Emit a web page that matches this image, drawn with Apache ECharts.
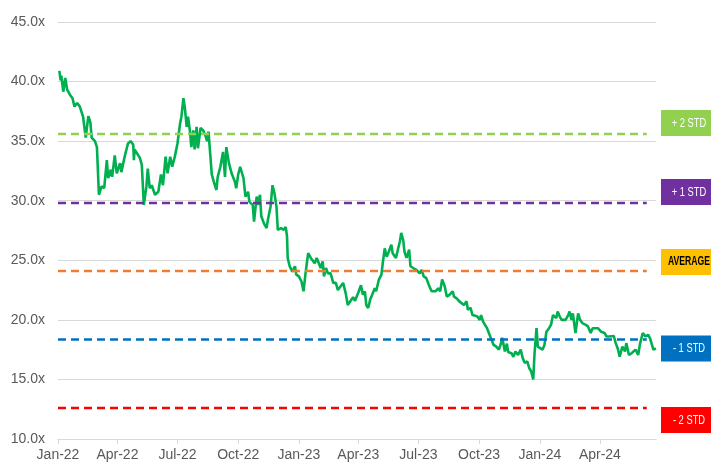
<!DOCTYPE html>
<html>
<head>
<meta charset="UTF-8">
<title>P/E band</title>
<script src="https://cdn.jsdelivr.net/npm/echarts@6/dist/echarts.min.js"></script>
<style>
  html, body { margin: 0; padding: 0; background: #fff; }
  #chart { width: 711px; height: 468px; }
</style>
</head>
<body>
<div id="chart"></div>
<script>
// forward P/E multiple
var peHistory = [
  ['2022-01-03', 40.9], ['2022-01-05', 40.1], ['2022-01-06', 40.5], ['2022-01-09', 39.15], ['2022-01-12', 40.3],
  ['2022-01-15', 39.3], ['2022-01-19', 38.9], ['2022-01-23', 38.6], ['2022-01-26', 37.9], ['2022-01-30', 38.2],
  ['2022-02-03', 37.9], ['2022-02-08', 37.05], ['2022-02-12', 35.3], ['2022-02-16', 37.1], ['2022-02-19', 36.6],
  ['2022-02-21', 35.3], ['2022-02-26', 35.0], ['2022-03-01', 34.5], ['2022-03-04', 30.5], ['2022-03-08', 31.2],
  ['2022-03-12', 31.05], ['2022-03-16', 33.4], ['2022-03-18', 31.9], ['2022-03-22', 32.6], ['2022-03-24', 32.0],
  ['2022-03-28', 33.8], ['2022-03-31', 32.3], ['2022-04-05', 33.15], ['2022-04-07', 32.4], ['2022-04-12', 33.7],
  ['2022-04-17', 34.8], ['2022-04-21', 35.0], ['2022-04-25', 34.7], ['2022-04-26', 33.4], ['2022-04-27', 34.3],
  ['2022-05-05', 33.6], ['2022-05-08', 33.0], ['2022-05-11', 29.65], ['2022-05-15', 31.2], ['2022-05-17', 32.7],
  ['2022-05-20', 31.05], ['2022-05-23', 31.3], ['2022-05-28', 30.5], ['2022-06-02', 30.75], ['2022-06-06', 32.2],
  ['2022-06-09', 31.3], ['2022-06-13', 33.7], ['2022-06-16', 32.3], ['2022-06-20', 33.7], ['2022-06-23', 32.85],
  ['2022-06-27', 33.7], ['2022-07-01', 34.8], ['2022-07-05', 36.5], ['2022-07-07', 37.05], ['2022-07-10', 38.6],
  ['2022-07-12', 37.9], ['2022-07-15', 36.2], ['2022-07-17', 37.05], ['2022-07-20', 35.8], ['2022-07-22', 34.5],
  ['2022-07-25', 35.9], ['2022-07-27', 34.3], ['2022-07-30', 36.2], ['2022-08-01', 34.4], ['2022-08-05', 36.1],
  ['2022-08-09', 35.9], ['2022-08-12', 35.5], ['2022-08-15', 35.0], ['2022-08-17', 35.8], ['2022-08-20', 35.65],
  ['2022-08-22', 32.2], ['2022-08-25', 31.6], ['2022-08-29', 30.9], ['2022-08-31', 32.0], ['2022-09-04', 32.85],
  ['2022-09-08', 34.1], ['2022-09-11', 32.0], ['2022-09-13', 34.5], ['2022-09-17', 33.15], ['2022-09-21', 32.3],
  ['2022-09-23', 32.4], ['2022-09-26', 31.6], ['2022-09-28', 31.05], ['2022-10-01', 32.2], ['2022-10-04', 32.85],
  ['2022-10-07', 32.7], ['2022-10-09', 31.9], ['2022-10-12', 30.35], ['2022-10-16', 30.75], ['2022-10-18', 29.9],
  ['2022-10-23', 29.65], ['2022-10-25', 28.25], ['2022-10-29', 30.35], ['2022-10-31', 29.65], ['2022-11-03', 30.5],
  ['2022-11-05', 28.7], ['2022-11-09', 28.1], ['2022-11-13', 27.7], ['2022-11-15', 28.4], ['2022-11-19', 29.5],
  ['2022-11-22', 31.3], ['2022-11-25', 30.6], ['2022-11-28', 29.5], ['2022-11-30', 27.55], ['2022-12-05', 27.7],
  ['2022-12-09', 27.55], ['2022-12-12', 27.8], ['2022-12-14', 27.0], ['2022-12-15', 25.2], ['2022-12-18', 24.5],
  ['2022-12-22', 24.05], ['2022-12-26', 24.5], ['2022-12-28', 23.8], ['2023-01-01', 23.65], ['2023-01-05', 23.2],
  ['2023-01-08', 22.4], ['2023-01-11', 23.9], ['2023-01-15', 25.6], ['2023-01-19', 25.2], ['2023-01-22', 25.3],
  ['2023-01-25', 24.75], ['2023-01-28', 25.2], ['2023-01-31', 25.3], ['2023-02-03', 24.35], ['2023-02-06', 24.9],
  ['2023-02-08', 23.65], ['2023-02-11', 24.35], ['2023-02-14', 23.9], ['2023-02-18', 23.9], ['2023-02-22', 23.1],
  ['2023-02-26', 23.1], ['2023-03-01', 22.5], ['2023-03-05', 22.8], ['2023-03-09', 23.1], ['2023-03-13', 22.2],
  ['2023-03-16', 21.25], ['2023-03-19', 21.2], ['2023-03-24', 21.9], ['2023-03-27', 21.6], ['2023-04-01', 22.3],
  ['2023-04-05', 22.9], ['2023-04-08', 22.1], ['2023-04-11', 22.4], ['2023-04-13', 21.25], ['2023-04-16', 21.0],
  ['2023-04-19', 21.7], ['2023-04-22', 22.1], ['2023-04-26', 22.65], ['2023-04-28', 22.4], ['2023-05-02', 23.35],
  ['2023-05-06', 23.8], ['2023-05-08', 24.75], ['2023-05-11', 26.0], ['2023-05-14', 25.3], ['2023-05-17', 25.7],
  ['2023-05-21', 26.3], ['2023-05-23', 25.6], ['2023-05-28', 25.2], ['2023-05-31', 25.9], ['2023-06-03', 26.6],
  ['2023-06-05', 27.3], ['2023-06-08', 26.7], ['2023-06-10', 25.7], ['2023-06-13', 25.2], ['2023-06-17', 25.9],
  ['2023-06-19', 24.5], ['2023-06-23', 24.35], ['2023-06-28', 24.2], ['2023-07-03', 23.9], ['2023-07-06', 24.2],
  ['2023-07-09', 23.65], ['2023-07-13', 23.5], ['2023-07-17', 22.9], ['2023-07-21', 22.4], ['2023-07-24', 22.5],
  ['2023-07-27', 22.4], ['2023-07-31', 22.65], ['2023-08-03', 22.4], ['2023-08-06', 23.4], ['2023-08-10', 22.8],
  ['2023-08-13', 21.95], ['2023-08-17', 22.1], ['2023-08-22', 22.4], ['2023-08-24', 21.95], ['2023-08-28', 21.8],
  ['2023-09-01', 21.55], ['2023-09-04', 21.7], ['2023-09-08', 21.25], ['2023-09-12', 21.55], ['2023-09-14', 20.85],
  ['2023-09-18', 21.0], ['2023-09-21', 20.4], ['2023-09-24', 20.3], ['2023-09-28', 20.3], ['2023-10-02', 20.0],
  ['2023-10-04', 20.4], ['2023-10-07', 19.85], ['2023-10-09', 20.0], ['2023-10-13', 19.3], ['2023-10-16', 19.45],
  ['2023-10-20', 18.3], ['2023-10-23', 17.9], ['2023-10-27', 17.75], ['2023-10-31', 17.5], ['2023-11-03', 18.0],
  ['2023-11-05', 18.5], ['2023-11-09', 17.35], ['2023-11-12', 18.0], ['2023-11-14', 17.3], ['2023-11-19', 17.2],
  ['2023-11-22', 16.9], ['2023-11-25', 17.35], ['2023-11-29', 17.05], ['2023-12-03', 17.5], ['2023-12-06', 16.8],
  ['2023-12-09', 16.4], ['2023-12-13', 16.5], ['2023-12-16', 15.95], ['2023-12-19', 15.65], ['2023-12-22', 15.0],
  ['2023-12-24', 17.2], ['2023-12-27', 19.3], ['2023-12-29', 17.75], ['2024-01-01', 17.6], ['2024-01-05', 17.5],
  ['2024-01-08', 17.9], ['2024-01-11', 19.0], ['2024-01-15', 19.3], ['2024-01-18', 19.6], ['2024-01-21', 20.4],
  ['2024-01-23', 20.55], ['2024-01-26', 20.15], ['2024-01-28', 20.7], ['2024-01-31', 20.3], ['2024-02-03', 20.0],
  ['2024-02-06', 20.15], ['2024-02-09', 20.0], ['2024-02-13', 20.4], ['2024-02-15', 20.7], ['2024-02-18', 20.0],
  ['2024-02-20', 20.55], ['2024-02-24', 18.9], ['2024-02-28', 20.55], ['2024-03-02', 20.0], ['2024-03-06', 19.7],
  ['2024-03-10', 19.6], ['2024-03-14', 19.45], ['2024-03-18', 18.9], ['2024-03-21', 19.3], ['2024-03-24', 19.15],
  ['2024-03-29', 19.3], ['2024-04-03', 19.0], ['2024-04-08', 18.9], ['2024-04-11', 18.6], ['2024-04-15', 18.6],
  ['2024-04-18', 18.75], ['2024-04-22', 18.65], ['2024-04-25', 18.05], ['2024-04-28', 17.6], ['2024-05-01', 16.9],
  ['2024-05-05', 17.75], ['2024-05-09', 17.35], ['2024-05-11', 18.05], ['2024-05-15', 17.05], ['2024-05-19', 17.2],
  ['2024-05-22', 17.35], ['2024-05-25', 17.5], ['2024-05-29', 17.05], ['2024-06-01', 18.05], ['2024-06-03', 18.2],
  ['2024-06-05', 18.9], ['2024-06-09', 18.6], ['2024-06-13', 18.75], ['2024-06-16', 18.45], ['2024-06-18', 18.3],
  ['2024-06-21', 17.5], ['2024-06-25', 17.6]
];

// mean and standard deviation bands
var levelNames  = ['+ 2 STD', '+ 1 STD', 'AVERAGE', '- 1 STD', '- 2 STD'];
var levelValues = [35.6, 29.8, 24.1, 18.35, 12.6];
var levelStart = '2022-01-01';
var levelEnd   = '2024-06-11';

var tickDates  = ['2022-01-01', '2022-04-01', '2022-07-01', '2022-10-01', '2023-01-01',
                  '2023-04-01', '2023-07-01', '2023-10-01', '2024-01-01', '2024-04-01'];
var tickLabels = ['Jan-22', 'Apr-22', 'Jul-22', 'Oct-22', 'Jan-23',
                  'Apr-23', 'Jul-23', 'Oct-23', 'Jan-24', 'Apr-24'];

var lineColors = ['#92D050', '#7030A0', '#ED7D31', '#0070C0', '#FF0000'];
var boxColors  = ['#92D050', '#7030A0', '#FFC000', '#0070C0', '#FF0000'];
var boxText    = ['#ffffff', '#ffffff', '#000000', '#ffffff', '#ffffff'];
var boxShift   = [-11, -11, -9, 9, 12];

var font = '"Liberation Sans", Arial, sans-serif';

function ts(d) { return echarts.time.parse(d).getTime(); }
var tickTimes = tickDates.map(ts);

var chart = echarts.init(document.getElementById('chart'));

var series = [{
  name: 'P/E',
  type: 'line',
  data: peHistory.map(function (p) { return [ts(p[0]), p[1]]; }),
  showSymbol: false,
  z: 2,
  lineStyle: { color: '#00B050', width: 2.6 }
}];
levelValues.forEach(function (v, i) {
  series.push({
    name: levelNames[i],
    type: 'line',
    data: [[ts(levelStart), v], [ts(levelEnd), v]],
    showSymbol: false,
    z: 3,
    lineStyle: { color: lineColors[i], width: 2.5, type: [8, 5] }
  });
});

chart.setOption({
  animation: false,
  grid: { left: 58, right: 55, top: 22, bottom: 29, containLabel: false },
  xAxis: {
    type: 'value',
    min: ts('2022-01-01'),
    max: ts('2024-06-25'),
    axisLine: { lineStyle: { color: '#d9d9d9', width: 1 } },
    axisTick: { show: true, length: 5, customValues: tickTimes, lineStyle: { color: '#d9d9d9' } },
    splitLine: { show: false },
    axisLabel: {
      customValues: tickTimes,
      color: '#595959',
      fontSize: 14,
      fontFamily: font,
      margin: 9,
      formatter: function (val) {
        var k = tickTimes.indexOf(val);
        return k >= 0 ? tickLabels[k] : '';
      }
    }
  },
  yAxis: {
    type: 'value',
    min: 10,
    max: 45,
    interval: 5,
    axisLine: { show: false },
    axisTick: { show: false },
    splitLine: { lineStyle: { color: '#d9d9d9', width: 1 } },
    axisLabel: {
      color: '#595959',
      fontSize: 14,
      fontFamily: font,
      margin: 13,
      formatter: function (v) { return v.toFixed(1) + 'x'; }
    }
  },
  series: series
});

// coloured tags on the right, anchored to each band's level
var tags = levelValues.map(function (v, i) {
  var y = chart.convertToPixel({ yAxisIndex: 0 }, v) + boxShift[i];
  return {
    type: 'group',
    left: 661,
    top: y - 13,
    children: [
      { type: 'rect', shape: { x: 0, y: 0, width: 60, height: 26 }, style: { fill: boxColors[i] } },
      {
        type: 'text',
        x: 28, y: 13,
        scaleX: i === 2 ? 0.72 : 0.72,
        style: {
          text: levelNames[i],
          fill: boxText[i],
          font: (i === 2 ? 'bold 12px ' : '13px ') + font,
          align: 'center',
          verticalAlign: 'middle'
        }
      }
    ]
  };
});
chart.setOption({ graphic: tags });
</script>
</body>
</html>
